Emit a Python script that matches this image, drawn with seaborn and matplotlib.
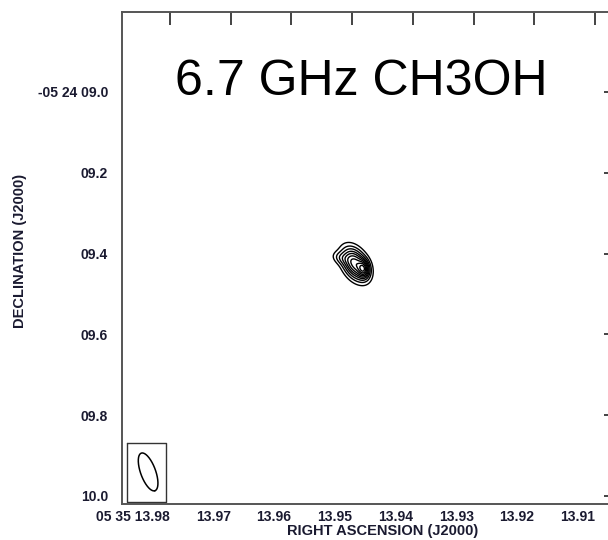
import numpy as np
import matplotlib
matplotlib.use("Agg")
import matplotlib.pyplot as plt
import seaborn as sns
from matplotlib import font_manager

# ---- data ----
ra_ticks = [13.98, 13.97, 13.96, 13.95, 13.94, 13.93, 13.92, 13.91]
ra_labels = ["05 35 13.98", "13.97", "13.96", "13.95", "13.94", "13.93", "13.92", "13.91"]
dec_ticks = [9.0, 9.2, 9.4, 9.6, 9.8, 10.0]
dec_labels = ["-05 24 09.0", "09.2", "09.4", "09.6", "09.8", "10.0"]

# maser source components: RA (s), Dec (arcsec), relative peak
src_ra = [13.9495, 13.9481, 13.9519]
src_dec = [9.4257, 9.4380, 9.4110]
src_amp = [1.0, 0.7, 0.18]
src_smaj_px = [11.0, 5.5, 6.0]   # sigma along major axis (pixel scale)
src_smin_px = [7.0, 3.5, 4.0]
src_pa_deg = [60, 85, 20]
levels = [0.08, 0.16, 0.25, 0.35, 0.45, 0.56, 0.68, 0.8, 0.92]

# beam
beam_ra, beam_dec = 13.9836, 9.9406
beam_major_px, beam_minor_px, beam_angle_deg = 20, 7.5, 70

title = "6.7 GHz CH3OH"

sns.set_theme(style="white")
plt.rcParams['font.family'] = ['Liberation Sans', 'DejaVu Sans']

names = {f.name for f in font_manager.fontManager.ttflist}
tick_family = ['Liberation Sans Narrow', 'Liberation Sans'] if 'Liberation Sans Narrow' in names else ['Liberation Sans']
tick_size = 11 if 'Liberation Sans Narrow' in names else 10

fig = plt.figure(figsize=(6.08, 5.40), dpi=100)
ax = fig.add_axes([122/608, 1-504/540, (617-122)/608, (504-12)/540])

x_left, x_right = 13.9879, 13.9064
y_top, y_bot = 8.802, 10.02
ax.set_xlim(x_left, x_right)
ax.set_ylim(y_bot, y_top)

px_x = 6070.0   # pixels per second of RA
px_y = 404.0    # pixels per arcsec

ra = np.linspace(13.962, 13.935, 300)
dec = np.linspace(9.33, 9.53, 300)
RA, DEC = np.meshgrid(ra, dec)
Z = np.zeros_like(RA)
for r0, d0, a, sj, sn, pa in zip(src_ra, src_dec, src_amp, src_smaj_px, src_smin_px, src_pa_deg):
    dx = (r0 - RA) * px_x
    dy = (DEC - d0) * px_y
    t = np.deg2rad(pa)
    u = dx*np.cos(t) + dy*np.sin(t)
    v = -dx*np.sin(t) + dy*np.cos(t)
    Z += a*np.exp(-0.5*((u/sj)**2 + (v/sn)**2))
Z /= Z.max()
ax.contour(RA, DEC, Z, levels=levels, colors='black', linewidths=1.0)

# beam box and ellipse
bx = [13.9871, 13.9807, 13.9807, 13.9871, 13.9871]
by = [9.869, 9.869, 10.015, 10.015, 9.869]
ax.plot(bx, by, color='#333333', lw=1.0)
th = np.linspace(0, 2*np.pi, 200)
ang = np.deg2rad(beam_angle_deg)
ex = beam_major_px*np.cos(th)*np.cos(ang) - beam_minor_px*np.sin(th)*np.sin(ang)
ey = beam_major_px*np.cos(th)*np.sin(ang) + beam_minor_px*np.sin(th)*np.cos(ang)
ax.plot(beam_ra - ex/px_x, beam_dec + ey/px_y, color='black', lw=1.1)

ax.set_xticks(ra_ticks)
ax.set_xticklabels(ra_labels)
ax.set_yticks(dec_ticks)
ax.set_yticklabels(dec_labels)
lab_color = '#1a1a30'
ax.tick_params(axis='both', direction='in', length=9.5, width=1.2, color='#222222',
               top=True, right=True, labelsize=tick_size, labelcolor=lab_color)
ax.tick_params(axis='x', pad=4)
ax.tick_params(axis='y', pad=10)
for lab in ax.get_xticklabels() + ax.get_yticklabels():
    lab.set_fontweight('bold')
    lab.set_family(tick_family)
for lab in ax.get_xticklabels():
    lab.set_ha('right')

for s in ax.spines.values():
    s.set_color('#555555')
    s.set_linewidth(1.4)

fig.text(383/608, 1-531/540, "RIGHT ASCENSION (J2000)", ha='center', va='center',
         fontsize=10.5, fontweight='bold', color=lab_color)
fig.text(20/608, 1-251/540, "DECLINATION (J2000)", ha='center', va='center',
         rotation=90, fontsize=10.5, fontweight='bold', color=lab_color)
fig.text(175/608, 1-82/540, title, ha='left', va='center', fontsize=36, color='black')

fig.savefig("out.png", dpi=100)
